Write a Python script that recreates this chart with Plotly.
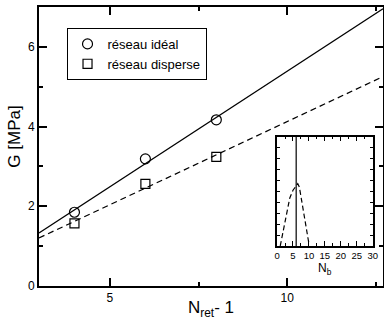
import numpy as np
import plotly.graph_objects as go

# main plot data
n_ret_minus_1 = [4, 6, 8]
g_ideal = [1.85, 3.19, 4.17]
g_disperse = [1.57, 2.56, 3.24]

# inset: distribution of N_b
nb_values = [1, 2, 3, 4, 5, 6, 6.5, 7, 8, 9, 10]
nb_prob = [0.0, 0.14, 0.29, 0.44, 0.51, 0.55, 0.57, 0.54, 0.36, 0.17, 0.02]
nb_ideal = 6

x_range = [3, 12.7]
font = 'Liberation Sans, Arial, sans-serif'

# linear fits
fit_i = np.polyfit(n_ret_minus_1, g_ideal, 1)
fit_d = np.polyfit(n_ret_minus_1, g_disperse, 1)
xx = np.linspace(x_range[0], x_range[1], 50)

fig = go.Figure()
fig.add_trace(go.Scatter(x=xx, y=np.polyval(fit_i, xx), mode='lines',
                         line=dict(color='black', width=1.3), showlegend=False))
fig.add_trace(go.Scatter(x=xx, y=np.polyval(fit_d, xx), mode='lines',
                         line=dict(color='black', width=1.3, dash='6px,4px'), showlegend=False))
fig.add_trace(go.Scatter(x=n_ret_minus_1, y=g_ideal, mode='markers', name='réseau idéal',
                         marker=dict(symbol='circle-open', size=10, color='black', line=dict(width=1.2))))
fig.add_trace(go.Scatter(x=n_ret_minus_1, y=g_disperse, mode='markers', name='réseau disperse',
                         marker=dict(symbol='square-open', size=9, color='black', line=dict(width=1.2))))

# inset
fig.add_trace(go.Scatter(x=nb_values, y=nb_prob, mode='lines', xaxis='x2', yaxis='y2',
                         line=dict(color='black', width=1.2, dash='5px,3px'), showlegend=False))
fig.add_trace(go.Scatter(x=[nb_ideal, nb_ideal], y=[0, 1], mode='lines', xaxis='x2', yaxis='y2',
                         line=dict(color='black', width=1.2), showlegend=False))

ax = dict(showline=True, linecolor='black', linewidth=2, mirror='allticks', ticks='inside',
          tickcolor='black', tickwidth=1.5, showgrid=False, zeroline=False, automargin=False,
          tickfont=dict(size=12, color='black'))

fig.update_layout(
    width=384, height=320,
    margin=dict(l=39, r=1, t=7, b=34),
    paper_bgcolor='white', plot_bgcolor='white',
    font=dict(family=font, color='black'),
    xaxis=dict(ax, range=x_range, tick0=0, dtick=5, ticklen=8,
               minor=dict(dtick=2.5, ticklen=4, ticks='inside', tickcolor='black', tickwidth=1.5)),
    yaxis=dict(ax, range=[0, 7], tick0=0, dtick=2, ticklen=8,
               minor=dict(dtick=1, ticklen=4, ticks='inside', tickcolor='black', tickwidth=1.5)),
    xaxis2=dict(ax, domain=[0.692, 0.970], anchor='y2', range=[0, 30], tick0=0, dtick=5, ticklen=5,
                linewidth=1.5, tickwidth=1, tickfont=dict(size=9.5),
                minor=dict(dtick=2.5, ticklen=3, ticks='inside', tickcolor='black', tickwidth=1)),
    yaxis2=dict(ax, domain=[0.1435, 0.535], anchor='x2', range=[0, 1], dtick=0.1, ticklen=3,
                linewidth=1.5, tickwidth=1, showticklabels=False),
    legend=dict(x=0.08, y=0.925, xanchor='left', yanchor='top', bordercolor='black', borderwidth=1,
                bgcolor='white', font=dict(size=13), itemwidth=30, tracegroupgap=0),
    annotations=[
        dict(text='N<sub>ret</sub>- 1', xref='paper', yref='paper', x=0.5, y=-0.083,
             xanchor='center', yanchor='middle', showarrow=False, font=dict(size=17)),
        dict(text='G [MPa]', xref='paper', yref='paper', x=-0.07, y=0.535, textangle=-90,
             xanchor='center', yanchor='middle', showarrow=False, font=dict(size=17)),
        dict(text='N<sub>b</sub>', xref='paper', yref='paper', x=0.831, y=0.06,
             xanchor='center', yanchor='middle', showarrow=False, font=dict(size=12)),
    ],
)

fig.write_html("out.html", config={'displayModeBar': False},
               post_script="document.body.style.margin='0';")
